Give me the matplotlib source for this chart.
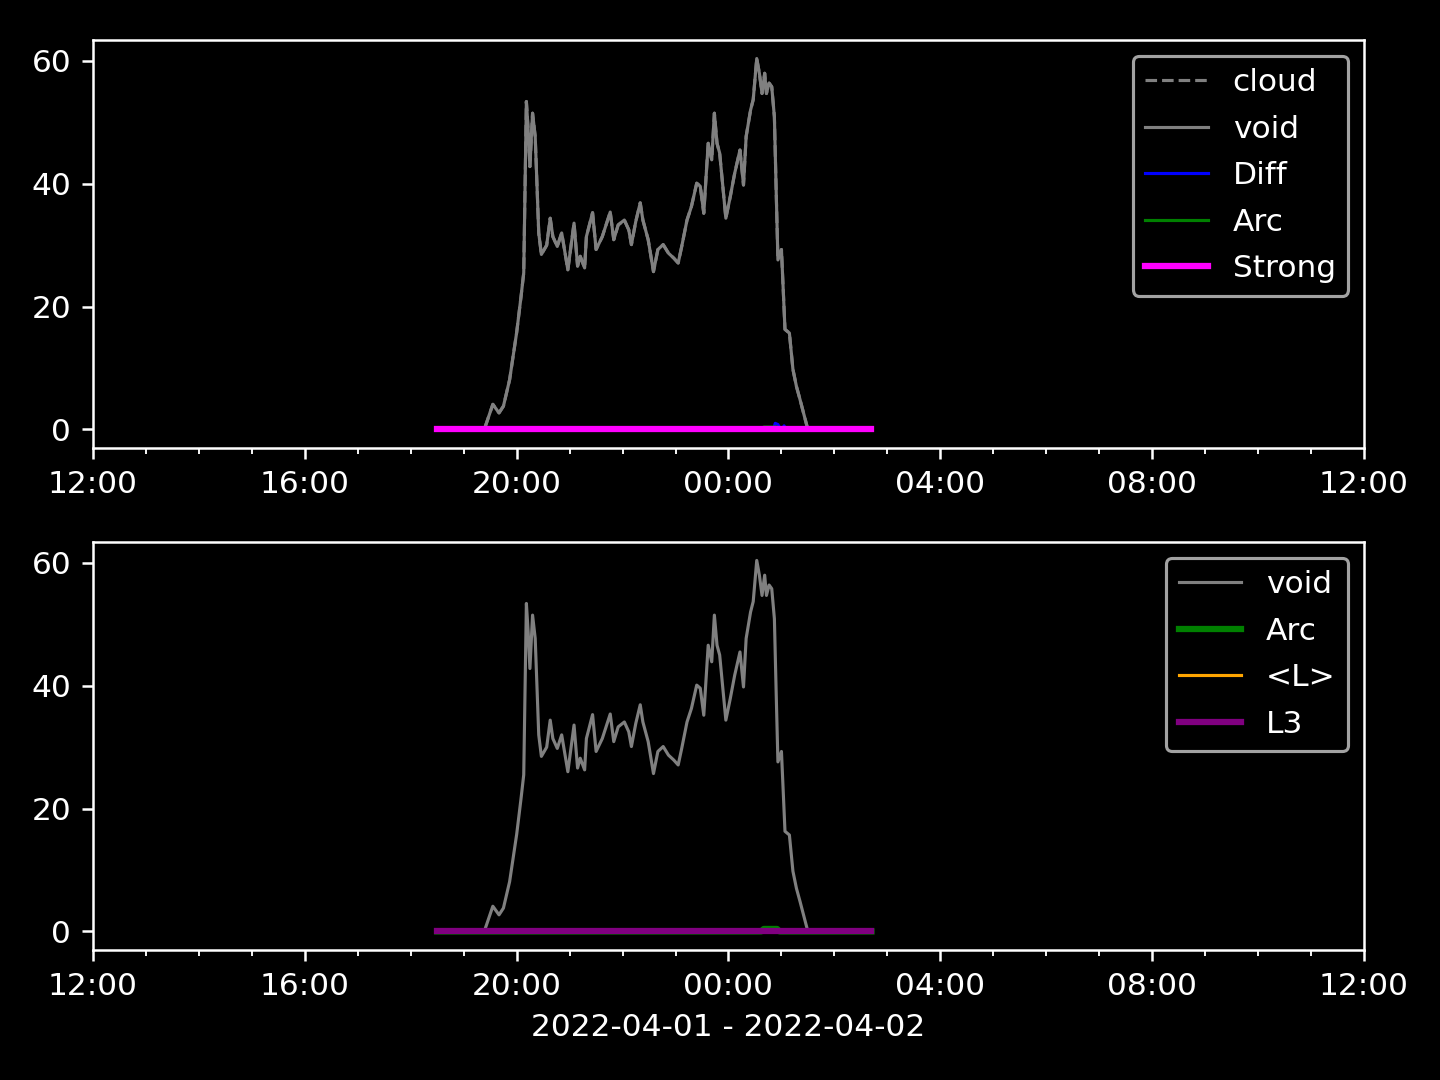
import datetime as dt
import matplotlib
matplotlib.use("Agg")
import matplotlib.pyplot as plt
import matplotlib.dates as mdates

day0 = dt.date(2022, 4, 1)

# void / cloud curve
void_t = ["19:24", "19:33", "19:40", "19:45", "19:52", "20:00", "20:05", "20:08",
          "20:11", "20:13", "20:15", "20:18", "20:21", "20:25", "20:28", "20:34",
          "20:38", "20:41", "20:46", "20:51", "20:58", "21:05", "21:09", "21:12",
          "21:17", "21:19", "21:26", "21:30", "21:37", "21:46", "21:50", "21:55",
          "22:02", "22:07", "22:10", "22:15", "22:20", "22:23", "22:29", "22:35",
          "22:40", "22:46", "22:52", "22:58", "23:03", "23:07", "23:13", "23:18",
          "23:24", "23:28", "23:32", "23:37", "23:41", "23:44", "23:47", "23:50",
          "23:57", "00:02", "00:07", "00:13", "00:17", "00:20", "00:25", "00:28",
          "00:32", "00:35", "00:38", "00:41", "00:43", "00:46", "00:49", "00:52",
          "00:54", "00:56", "01:00", "01:04", "01:09", "01:13", "01:17", "01:21",
          "01:25", "01:29"]
void_v = [0.3, 4.1, 2.7, 3.8, 8.1, 15.8, 21.7, 25.5,
          53.4, 48.8, 42.8, 51.5, 47.7, 32.0, 28.5, 30.0,
          34.4, 31.4, 29.8, 32.0, 26.0, 33.6, 26.6, 28.2,
          26.3, 31.4, 35.3, 29.3, 31.4, 35.4, 30.9, 33.3,
          34.1, 32.5, 30.1, 33.9, 36.9, 34.1, 30.9, 25.7,
          29.3, 30.1, 28.7, 27.9, 27.1, 29.8, 34.1, 36.3,
          40.1, 39.6, 35.2, 46.6, 43.9, 51.5, 46.6, 45.0,
          34.4, 37.9, 41.7, 45.5, 39.8, 47.7, 52.0, 53.7,
          60.4, 58.0, 54.7, 58.0, 54.7, 56.4, 55.8, 50.9,
          39.0, 27.6, 29.3, 16.3, 15.7, 9.8, 7.0, 4.9,
          2.7, 0.5]
cloud_t = void_t
cloud_v = void_v

diff_t = ["18:30", "00:51", "00:53", "00:56", "00:59", "01:01", "01:03", "01:05", "02:42"]
diff_v = [0, 0, 1.0, 0.8, 0, 0, 0.6, 0, 0]

arc_t = ["18:30", "00:37", "00:40", "00:55", "00:58", "02:42"]
arc_v = [0, 0, 0.4, 0.4, 0, 0]

strong_t = ["18:30", "02:42"]
strong_v = [0, 0]

lavg_t = ["18:30", "02:42"]
lavg_v = [0, 0]

l3_t = ["18:30", "02:42"]
l3_v = [0, 0]

date_label = "2022-04-01 - 2022-04-02"


def to_dt(times):
    out = []
    for s in times:
        h, m = map(int, s.split(":"))
        d = day0 if h >= 12 else day0 + dt.timedelta(days=1)
        out.append(dt.datetime(d.year, d.month, d.day, h, m))
    return out


plt.style.use("dark_background")
fig, (ax1, ax2) = plt.subplots(2, 1, figsize=(6.4, 4.8), dpi=225)

ax1.plot(to_dt(cloud_t), cloud_v, color="gray", ls="--", lw=1, label="cloud")
ax1.plot(to_dt(void_t), void_v, color="gray", lw=1, label="void")
ax1.plot(to_dt(diff_t), diff_v, color="blue", lw=1, label="Diff")
ax1.plot(to_dt(arc_t), arc_v, color="green", lw=1, label="Arc")
ax1.plot(to_dt(strong_t), strong_v, color="magenta", lw=2, label="Strong")
ax1.legend(loc="upper right", labelspacing=0.56)

ax2.plot(to_dt(void_t), void_v, color="gray", lw=1, label="void")
ax2.plot(to_dt(arc_t), arc_v, color="green", lw=2, label="Arc")
ax2.plot(to_dt(lavg_t), lavg_v, color="orange", lw=1, label="<L>")
ax2.plot(to_dt(l3_t), l3_v, color="purple", lw=2, label="L3")
ax2.legend(loc="upper right", labelspacing=0.56)
ax2.set_xlabel(date_label)

start = dt.datetime(2022, 4, 1, 12, 0)
end = dt.datetime(2022, 4, 2, 12, 0)
for ax in (ax1, ax2):
    ax.set_xlim(start, end)
    ax.xaxis.set_major_locator(mdates.HourLocator(byhour=range(0, 24, 4)))
    ax.xaxis.set_minor_locator(mdates.HourLocator())
    ax.xaxis.set_major_formatter(mdates.DateFormatter("%H:%M"))

fig.subplots_adjust(left=0.0646, right=0.9472, top=0.963, bottom=0.1204, hspace=0.23)
fig.savefig("out.png")
